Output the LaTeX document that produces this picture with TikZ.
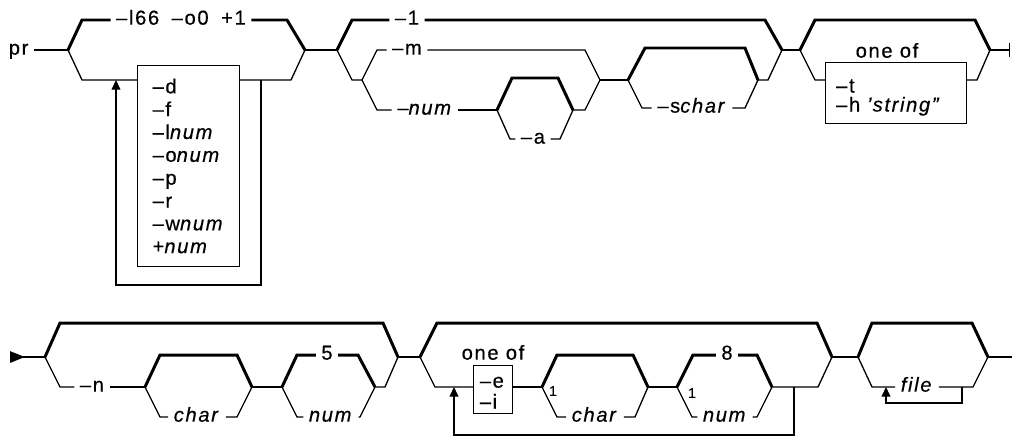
\documentclass[tikz,border=0pt]{standalone}
\usepackage{fontspec}
\setmainfont{Liberation Sans}[LetterSpace=8, FakeBold=0.4]
\usetikzlibrary{arrows.meta}

\begin{document}
\begin{tikzpicture}[x=0.02cm, y=-0.02cm,
    font=\fontsize{11.5}{13}\selectfont,
    track/.style={line width=0.75pt},
    dflt/.style={line width=1.7pt},
    lbl/.style={anchor=mid, inner xsep=3pt, inner ysep=1pt},
    optbox/.style={draw, line width=0.75pt, align=left, anchor=north west},
    onelbl/.style={font=\fontsize{8}{9}\selectfont, inner sep=0pt},
    loopback/.style={track, -{Triangle[width=5pt,length=5.5pt]}}
  ]
  \useasboundingbox (0,0) rectangle (1012,437);

  % first line
  \node[lbl, anchor=mid east] (pr) at (34,50) {pr};
  \coordinate (j1) at (68,50);
  \coordinate (j2) at (305,50);
  \coordinate (lo1) at (82,80);
  \node[lbl] (fix) at (181,20) {–l66\hspace{3pt} –o0\hspace{3pt} +1};
  \node[optbox, text width=41pt, inner xsep=8.5pt, inner ysep=7.4pt] (opts) at (137,65)
    {–d\\–f\\–l\textit{num}\\–o\textit{num}\\–p\\–r\\–w\textit{num}\\+\textit{num}};
  \draw[track] (pr.mid east) -- (j1);
  \draw[dflt] (j1) -- (82,20) -- (fix.mid west);
  \draw[dflt] (fix.mid east) -- (287,20) -- (j2);
  \draw[track] (j1) -- (lo1) -- (opts.west |- lo1);
  \draw[track] (opts.east |- lo1) -- (291,80) -- (j2);
  \coordinate (rep1) at (261,80);
  \coordinate (bk1) at (116,80);
  \draw[loopback] (rep1) -- (261,285) -| (bk1);

  \coordinate (j3) at (337,50);
  \coordinate (j4) at (362,80);
  \coordinate (j6) at (782,50);
  \coordinate (j7) at (600,80);
  \draw[track] (j2) -- (j3);
  \node[lbl] (one) at (407,20) {–1};
  \draw[dflt] (j3) -- (352,20) -- (one.mid west);
  \draw[dflt] (one.mid east) -- (765,20) -- (j6);
  \draw[track] (j3) -- (352,80) -- (j4);
  \node[lbl] (m) at (407,50) {–m};
  \draw[track] (j4) -- (377,50) -- (m.mid west);
  \draw[track] (m.mid east) -- (585,50) -- (j7);
  \node[lbl] (cnt) at (425,110) {–\textit{num}};
  \coordinate (j5) at (497,110);
  \coordinate (j5b) at (573,110);
  \draw[track] (j4) -- (377,110) -- (cnt.mid west);
  \draw[track] (cnt.mid east) -- (j5);
  \node[lbl] (a) at (533,139) {–a};
  \draw[dflt] (j5) -- (512,78) -- (558,78) -- (j5b);
  \draw[track] (j5) -- (510,139) -- (a.mid west);
  \draw[track] (a.mid east) -- (560,139) -- (j5b);
  \draw[track] (j5b) -- (585,110) -- (j7);

  \coordinate (j8) at (628,80);
  \coordinate (j9) at (758,80);
  \draw[track] (j7) -- (j8);
  \node[lbl] (sc) at (692,108) {–s\textit{char}};
  \draw[dflt] (j8) -- (645,48) -- (745,48) -- (j9);
  \draw[track] (j8) -- (642,108) -- (sc.mid west);
  \draw[track] (sc.mid east) -- (745,108) -- (j9);
  \draw[track] (j9) -- (768,80) -- (j6);

  \coordinate (j10) at (800,50);
  \coordinate (j11) at (990,50);
  \coordinate (lo2) at (815,80);
  \draw[track] (j6) -- (j10);
  \draw[dflt] (j10) -- (815,20) -- (975,20) -- (j11);
  \node[lbl] (of1) at (887,53) {one of};
  \node[optbox, font=\fontsize{11.5}{10.8}\selectfont, text width=68pt, inner xsep=6pt, inner ysep=4.4pt] (th) at (825,62)
    {\rule{0pt}{12.6pt}–t\\–h \textit{'string"}};
  \draw[track] (j10) -- (lo2) -- (th.west |- lo2);
  \draw[track] (th.east |- lo2) -- (977,80) -- (j11);
  \coordinate (stop) at (1010,50);
  \draw[track, -{Bar[width=8pt]}] (j11) -- (stop);

  % second line
  \coordinate (go) at (10,357);
  \coordinate (k1) at (45,357);
  \coordinate (k2) at (398,357);
  \coordinate (k3) at (145,387);
  \draw[track, {Triangle[reversed,width=6.5pt,length=8.5pt]}-] (go) -- (k1);
  \draw[dflt] (k1) -- (60,323) -- (383,323) -- (k2);
  \node[lbl] (n) at (92,387) {–n};
  \draw[track] (k1) -- (60,387) -- (n.mid west);
  \draw[track] (n.mid east) -- (k3);
  \node[lbl] (ch1) at (197,417) {\textit{char}};
  \coordinate (k4) at (252,387);
  \draw[dflt] (k3) -- (160,355) -- (237,355) -- (k4);
  \draw[track] (k3) -- (160,417) -- (ch1.mid west);
  \draw[track] (ch1.mid east) -- (237,417) -- (k4);
  \coordinate (k5) at (282,387);
  \coordinate (k6) at (375,387);
  \draw[track] (k4) -- (k5);
  \node[lbl] (five) at (327,355) {5};
  \draw[dflt] (k5) -- (297,355) -- (five.mid west);
  \draw[dflt] (five.mid east) -- (358,355) -- (k6);
  \node[lbl] (nm2) at (331,417) {\textit{num}};
  \draw[track] (k5) -- (297,417) -- (nm2.mid west);
  \draw[track] (nm2.mid east) -- (360,417) -- (k6);
  \draw[track] (k6) -- (385,387) -- (k2);

  \coordinate (k7) at (420,357);
  \coordinate (k8) at (832,357);
  \coordinate (lo3) at (435,387);
  \draw[track] (k2) -- (k7);
  \draw[dflt] (k7) -- (437,323) -- (817,323) -- (k8);
  \node[lbl] (of2) at (493,355) {one of};
  \node[optbox, font=\fontsize{11.5}{11.9}\selectfont, text width=15pt, inner xsep=3.5pt, inner ysep=2.8pt] (ei) at (473,365)
    {\rule{0pt}{9.7pt}–e\\–i};
  \draw[track] (k7) -- (lo3) -- (ei.west |- lo3);
  \coordinate (k9) at (542,387);
  \coordinate (k10) at (648,387);
  \draw[track] (ei.east |- lo3) -- (k9);
  \node[onelbl] (r1) at (553,391) {1};
  \node[lbl] (ch2) at (595,417) {\textit{char}};
  \draw[dflt] (k9) -- (557,355) -- (633,355) -- (k10);
  \draw[track] (k9) -- (557,417) -- (ch2.mid west);
  \draw[track] (ch2.mid east) -- (635,417) -- (k10);
  \coordinate (k11) at (677,387);
  \coordinate (k12) at (772,387);
  \draw[track] (k10) -- (k11);
  \node[onelbl] (r2) at (692,393) {1};
  \node[lbl] (eight) at (727,355) {8};
  \draw[dflt] (k11) -- (693,355) -- (eight.mid west);
  \draw[dflt] (eight.mid east) -- (757,355) -- (k12);
  \node[lbl] (nm3) at (725,417) {\textit{num}};
  \draw[track] (k11) -- (692,417) -- (nm3.mid west);
  \draw[track] (nm3.mid east) -- (757,417) -- (k12);
  \draw[track] (k12) -- (818,387) -- (k8);
  \coordinate (rep2) at (794,387);
  \coordinate (bk2) at (454,387);
  \draw[loopback] (rep2) -- (794,435) -| (bk2);

  \coordinate (k13) at (858,357);
  \coordinate (k14) at (988,357);
  \draw[track] (k8) -- (k13);
  \draw[dflt] (k13) -- (872,323) -- (972,323) -- (k14);
  \node[lbl] (fl) at (917,387) {\textit{file}};
  \draw[track] (k13) -- (872,387) -- (fl.mid west);
  \draw[track] (fl.mid east) -- (973,387) -- (k14);
  \coordinate (rep3) at (962,387);
  \coordinate (bk3) at (886,387);
  \draw[loopback] (rep3) -- (962,403) -| (bk3);
  \coordinate (fin) at (1012,357);
  \draw[track] (k14) -- (fin);
\end{tikzpicture}
\end{document}
